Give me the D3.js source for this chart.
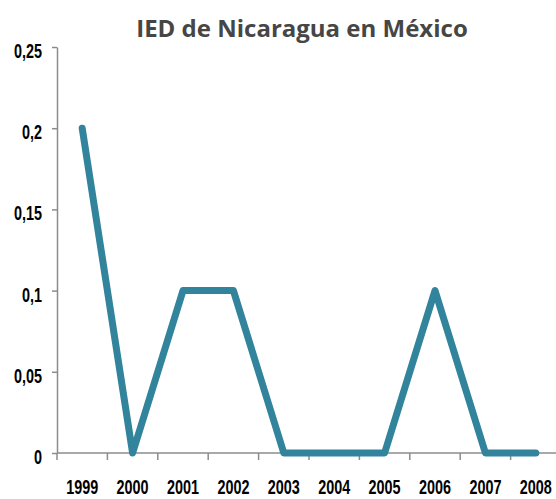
<!DOCTYPE html>
<html><head><meta charset="utf-8">
<script src="https://cdn.jsdelivr.net/npm/d3@7"></script>
<style>
html,body{margin:0;padding:0;background:#fff;}
svg{display:block;}
</style></head>
<body>
<script>
const title = "IED de Nicaragua en México";
const years = ["1999","2000","2001","2002","2003","2004","2005","2006","2007","2008"];
const values = [0.2, 0, 0.1, 0.1, 0, 0, 0, 0.1, 0, 0];
const yTicks = [0, 0.05, 0.1, 0.15, 0.2, 0.25];
const yTickLabels = ["0", "0,05", "0,1", "0,15", "0,2", "0,25"];

const W = 556, H = 499;
const svg = d3.select("body").append("svg").attr("width", W).attr("height", H);

const left = 57, step = 50.4;
const x = d3.scaleBand().domain(years).range([left, left + step * years.length]).paddingInner(0).paddingOuter(0);
const y = d3.scaleLinear().domain([0, 0.25]).range([453, 47]);

svg.append("text").attr("x", 302).attr("y", 37).attr("text-anchor", "middle")
  .attr("font-family", "'Open Sans', sans-serif").attr("font-weight", "bold")
  .attr("font-size", 24).attr("fill", "#464646").text(title);

const fontFam = "'Liberation Sans Narrow', 'Arial Narrow', 'Liberation Sans', sans-serif";
const sx = 0.72;

// Y axis
const yAxis = svg.append("g").attr("transform", `translate(${left},0)`)
  .call(d3.axisLeft(y).tickValues(yTicks).tickSize(5).tickSizeOuter(0)
    .tickFormat((d, i) => yTickLabels[i]));
yAxis.select(".domain").attr("stroke", "#8c8c8c").attr("stroke-width", 1.5);
yAxis.selectAll(".tick line").attr("stroke", "#8c8c8c").attr("stroke-width", 1.5);
yAxis.selectAll(".tick text")
  .attr("font-family", fontFam).attr("font-weight", "bold").attr("font-size", 20)
  .attr("fill", "#000").attr("text-anchor", "end")
  .attr("x", -15 / sx).attr("dy", "0.52em")
  .attr("transform", `scale(${sx},1)`);

// X axis
const xAxis = svg.append("g").attr("transform", "translate(0,453)")
  .call(d3.axisBottom(x).tickSize(0).tickSizeOuter(0));
xAxis.select(".domain").attr("d", `M${left},0H${W}`).attr("stroke", "#8c8c8c").attr("stroke-width", 1.5);
xAxis.selectAll(".tick text")
  .attr("font-family", fontFam).attr("font-weight", "bold").attr("font-size", 20)
  .attr("fill", "#000").attr("y", 0).attr("dy", "41")
  .attr("transform", `scale(${sx},1)`);
// tick marks at band boundaries
const bounds = years.map(d => x(d)).concat([x(years[years.length - 1]) + x.bandwidth()]);
xAxis.selectAll(".bline").data(bounds.filter(b => b <= W)).enter().append("line")
  .attr("class", "bline").attr("x1", d => d).attr("x2", d => d).attr("y1", 0).attr("y2", 7)
  .attr("stroke", "#8c8c8c").attr("stroke-width", 1.5);

// Line
const line = d3.line().x((d, i) => x(years[i]) + x.bandwidth() / 2).y(d => y(d));
svg.append("path").datum(values).attr("d", line)
  .attr("fill", "none").attr("stroke", "#31849b").attr("stroke-width", 7)
  .attr("stroke-linejoin", "round").attr("stroke-linecap", "round");
</script>
</body></html>
